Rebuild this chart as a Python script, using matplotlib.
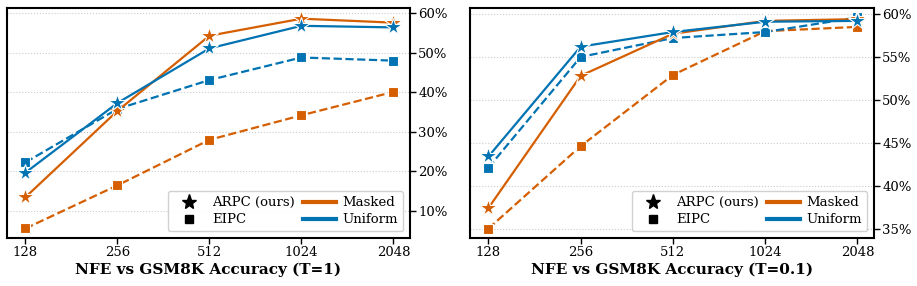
import numpy as np
import matplotlib
matplotlib.use("Agg")
import matplotlib.pyplot as plt
from matplotlib.lines import Line2D
from matplotlib.ticker import FuncFormatter

# data
nfe = ["128", "256", "512", "1024", "2048"]

# T=1
t1_masked_arpc = [13.5, 35.3, 54.3, 58.6, 57.6]
t1_masked_eipc = [5.6, 16.5, 28.0, 34.2, 40.1]
t1_uniform_arpc = [19.7, 37.3, 51.1, 56.8, 56.4]
t1_uniform_eipc = [22.3, 35.8, 43.1, 48.8, 48.0]

# T=0.1
t01_masked_arpc = [37.4, 52.8, 57.7, 59.2, 59.4]
t01_masked_eipc = [35.0, 44.6, 52.9, 58.0, 58.5]
t01_uniform_arpc = [43.4, 56.2, 57.9, 59.1, 59.2]
t01_uniform_eipc = [42.1, 55.0, 57.2, 57.9, 59.6]

titles = ["NFE vs GSM8K Accuracy (T=1)", "NFE vs GSM8K Accuracy (T=0.1)"]

ORANGE = "#d55e00"
BLUE = "#0173b2"

plt.rcParams["font.family"] = "DejaVu Serif"
plt.rcParams["font.size"] = 9

fig = plt.figure(figsize=(9.17, 2.86), dpi=100)
ax1 = fig.add_axes([7 / 917, 48 / 286, 403 / 917, 230 / 286])
ax2 = fig.add_axes([470 / 917, 48 / 286, 404 / 917, 230 / 286])

x = np.arange(len(nfe))


def draw(ax, m_arpc, m_eipc, u_arpc, u_eipc, title, ylim, yticks):
    # dashed EIPC first, solid ARPC on top
    ax.plot(x, m_eipc, "--", color=ORANGE, lw=1.6, marker="s", ms=7,
            mec="white", mew=0.8)
    ax.plot(x, u_eipc, "--", color=BLUE, lw=1.6, marker="s", ms=7,
            mec="white", mew=0.8)
    ax.plot(x, m_arpc, "-", color=ORANGE, lw=1.6, marker="*", ms=13,
            mec="white", mew=0.8)
    ax.plot(x, u_arpc, "-", color=BLUE, lw=1.6, marker="*", ms=13,
            mec="white", mew=0.8)

    ax.set_xticks(x)
    ax.set_xticklabels(nfe)
    ax.set_xlim(-0.2, 4.18)
    ax.set_ylim(*ylim)
    ax.set_yticks(yticks)
    ax.yaxis.tick_right()
    ax.yaxis.set_major_formatter(FuncFormatter(lambda v, p: "%d%%" % v))
    ax.grid(axis="y", linestyle=":", color="#cccccc", lw=0.8)
    ax.set_axisbelow(True)
    for s in ax.spines.values():
        s.set_linewidth(1.5)
    ax.tick_params(labelsize=9.5, width=1, length=4, pad=2)
    ax.set_xlabel(title, fontsize=11, fontweight="bold", labelpad=2)

    handles = [
        Line2D([], [], color="black", marker="*", ls="none", ms=11),
        Line2D([], [], color="black", marker="s", ls="none", ms=6),
        Line2D([], [], color=ORANGE, lw=3),
        Line2D([], [], color=BLUE, lw=3),
    ]
    labels = ["ARPC (ours)", "EIPC", "Masked", "Uniform"]
    ax.legend(handles, labels, ncol=2, loc="lower right", fontsize=9.5,
              handlelength=2.5, columnspacing=0.6, labelspacing=0.3,
              borderpad=0.4, handletextpad=0.5, fancybox=True, framealpha=0.9)


draw(ax1, t1_masked_arpc, t1_masked_eipc, t1_uniform_arpc, t1_uniform_eipc,
     titles[0], (3.2, 61.3), [10, 20, 30, 40, 50, 60])
draw(ax2, t01_masked_arpc, t01_masked_eipc, t01_uniform_arpc, t01_uniform_eipc,
     titles[1], (33.9, 60.7), [35, 40, 45, 50, 55, 60])

fig.savefig("out.png", dpi=100)
